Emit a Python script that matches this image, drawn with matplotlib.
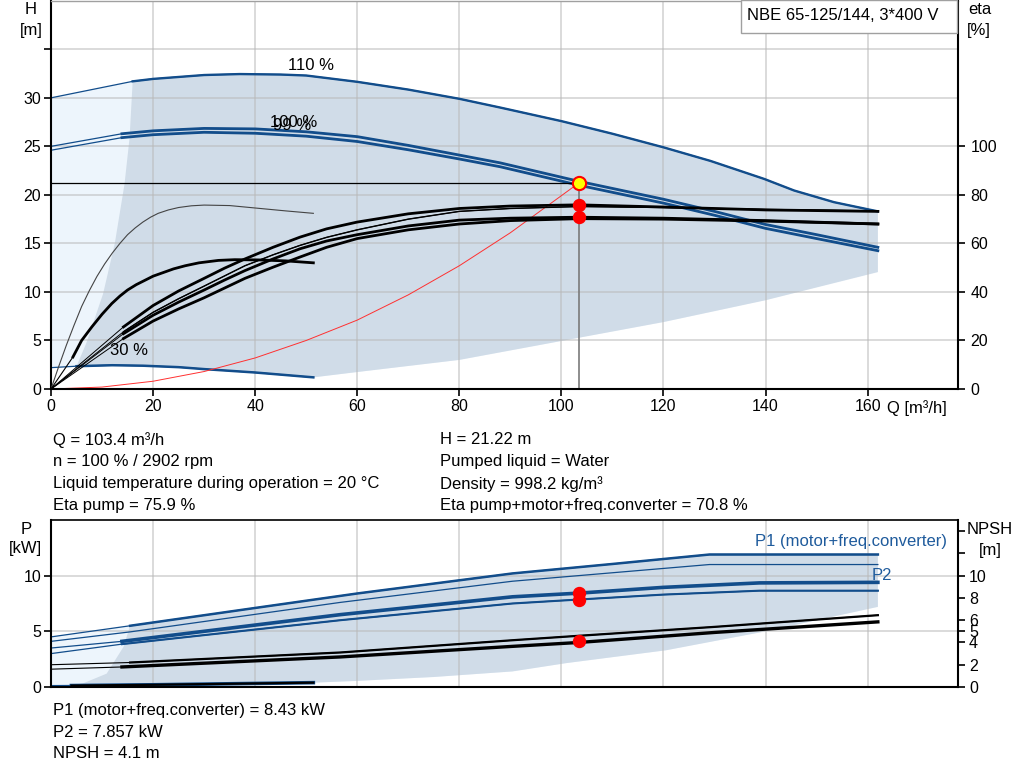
import matplotlib.pyplot as plt
from matplotlib.patches import Rectangle
import numpy as np

plt.rcParams['font.family'] = ['Liberation Sans', 'DejaVu Sans']

BLUE = '#124d8b'
TXT_BLUE = '#1f5b9c'
SHADE = '#d0dce8'
LIGHT = '#edf5fc'

# ---- top chart (H [m], eta [%]) ----
q_110 = [0, 16, 20, 30, 37, 45, 50, 60, 70, 80, 88, 100, 110, 120, 129.2, 139.7, 145.6, 153.4, 162]
h_110 = [30.0, 31.7, 31.95, 32.35, 32.45, 32.4, 32.3, 31.65, 30.85, 29.9, 29.0, 27.6, 26.3, 24.9, 23.5, 21.65, 20.45, 19.25, 18.3]

q_100 = [0, 13.9, 20, 30, 40, 50, 60, 70, 80, 88, 103.4, 120, 130, 140, 150, 162]
h_100 = [25.0, 26.3, 26.6, 26.85, 26.8, 26.5, 26.0, 25.1, 24.1, 23.3, 21.4, 19.55, 18.3, 16.95, 15.9, 14.6]
h_99 = [24.6, 25.9, 26.2, 26.45, 26.35, 26.05, 25.5, 24.65, 23.7, 22.9, 21.0, 19.15, 17.9, 16.55, 15.5, 14.25]

q_30 = [0, 5, 12, 18, 25, 30, 40, 51.4]
h_30 = [2.2, 2.35, 2.45, 2.4, 2.25, 2.05, 1.7, 1.2]

q_low = [51.4, 60, 80, 100, 120, 140, 162]
h_low = [1.2, 1.75, 3.0, 4.95, 6.9, 9.15, 12.05]

q_left = [5.0, 6.9, 10.2, 12.5, 14.4, 15.4, 16]
h_left = [2.35, 4.7, 9.8, 15.0, 21.1, 25.9, 31.7]

q_eta = [0, 14.2, 20, 25, 30, 34, 38, 43.5, 48.8, 54, 60, 70, 80, 90, 103.4, 120, 140, 162]
eta_pump_100 = [0, 25.6, 34.4, 40.4, 45.6, 49.8, 53.6, 58.4, 62.6, 66.0, 68.8, 72.2, 74.4, 75.4, 75.9, 75.0, 73.8, 73.2]
eta_pump_99 = [0, 23.6, 31.6, 37.2, 42.4, 46.6, 50.8, 55.3, 59.2, 62.5, 65.6, 70.0, 73.2, 74.4, 75.2, 74.8, 74.0, 73.4]
eta_tot_100 = [0, 22.8, 30.4, 35.8, 40.8, 44.9, 48.8, 53.6, 57.8, 61.0, 63.6, 67.2, 69.6, 70.4, 70.8, 70.4, 69.4, 68.0]
eta_tot_99 = [0, 20.8, 28.0, 33.0, 37.6, 41.6, 45.6, 50.2, 54.4, 58.4, 62.0, 65.6, 68.0, 69.4, 70.2, 70.0, 69.2, 68.0]

q_eta30 = [0, 1.5, 3, 4.5, 6, 7.5, 9, 10.5, 12, 13.5, 15, 16.5, 18, 19.5, 21, 23, 25, 27.5, 30, 35, 40, 46, 51.4]
eta_pump_30 = [0, 9.2, 18, 26.2, 34, 40.5, 46.4, 51.5, 56, 60.0, 63.6, 66.4, 68.8, 70.8, 72.4, 73.8, 74.8, 75.5, 75.8, 75.6, 74.6, 73.4, 72.4]
q_eta30t = [0, 4.3, 6, 8, 10, 11.9, 13.5, 15, 16.7, 18.4, 20, 22, 24, 26.3, 29, 32.8, 36, 40.7, 46, 51.4]
eta_tot_30 = [0, 13.2, 20.0, 25.6, 30.8, 35.2, 38.3, 40.8, 43.0, 44.8, 46.5, 48.0, 49.5, 50.8, 52.0, 53.0, 53.3, 53.2, 52.8, 52.0]

q_sys = [0, 10, 20, 30, 40, 50, 60, 70, 80, 90, 103.4]
h_sys = [0, 0.2, 0.8, 1.8, 3.2, 5.0, 7.1, 9.7, 12.7, 16.1, 21.22]

q_op = 103.4
h_op = 21.22
eta_op = [75.9, 70.8]

# ---- bottom chart (P [kW], NPSH [m]) ----
q_p1_110 = [0, 15.5, 40, 60, 90.4, 110, 129, 162]
p1_110 = [4.5, 5.5, 7.1, 8.4, 10.2, 11.05, 11.9, 11.9]
q_p2_110 = [0, 15.5, 56.7, 90.4, 129, 162]
p2_110 = [4.1, 4.95, 7.6, 9.5, 11.0, 11.0]
q_p_100 = [0, 13.9, 56.7, 90.4, 103.4, 120, 138.8, 162]
p1_100 = [3.5, 4.1, 6.5, 8.1, 8.43, 8.95, 9.35, 9.4]
p2_100 = [3.0, 3.85, 6.0, 7.5, 7.857, 8.3, 8.65, 8.65]
q_p30 = [0, 4.0, 20, 40, 51.4]
p_30 = [0.12, 0.13, 0.2, 0.32, 0.39]

q_npsh_a = [0, 15.5, 56.7, 90.4, 103.4, 130, 162]
npsh_a = [2.0, 2.2, 3.1, 4.2, 4.6, 5.4, 6.45]
q_npsh_b = [0, 13.9, 56.7, 90.4, 103.4, 130, 162]
npsh_b = [1.6, 1.8, 2.7, 3.65, 4.0, 4.9, 5.85]

q_plow = [51.4, 60, 75, 90.4, 101, 120.5, 140, 162]
p_low = [0.39, 0.55, 0.9, 1.4, 2.15, 3.3, 5.0, 7.2]
q_pleft = [4.0, 6.3, 10.9, 14.2, 15.5]
p_left = [0.13, 0.33, 1.2, 3.6, 5.5]

p_op = [8.43, 7.857]
npsh_op = 4.1

W, H = 1024, 781
fig = plt.figure(figsize=(W / 100, H / 100), dpi=100)

def fx(px):
    return px / W

def fy(py):
    return 1 - py / H

def style_axes(a):
    a.set_axisbelow(True)
    a.grid(True, color='#b8b8b8', alpha=0.55, lw=1.3)
    a.tick_params(direction='out', length=5, width=1.2, labelsize=11.5, pad=2)
    for s in ['left', 'bottom']:
        a.spines[s].set_linewidth(1.5)

def thick_part(q, v, qmin):
    q = np.asarray(q, float)
    v = np.asarray(v, float)
    m = q >= qmin
    return q[m], v[m]

# ================= top chart =================
ax = fig.add_axes([fx(51), fy(389), fx(958 - 51), 389 / H - 0.001])
ax.set_xlim(0, 177.7)
ax.set_ylim(0, 40)
style_axes(ax)
ax.spines['top'].set_color('#a0a0a0')
ax.spines['top'].set_linewidth(1)
ax.spines['right'].set_visible(False)

q110 = np.array(q_110); q30 = np.array(q_30)
env_x = np.concatenate([q110, q_low[::-1], q30[::-1]])
env_y = np.concatenate([h_110, h_low[::-1], np.array(h_30)[::-1]])
ax.fill(env_x, env_y, color=LIGHT, lw=0, zorder=0.2)
m110 = q110 >= q_left[-1]
m30 = q30 >= q_left[0]
dark_x = np.concatenate([q_left, q110[m110], q_low[::-1], q30[m30][::-1]])
dark_y = np.concatenate([h_left, np.array(h_110)[m110], h_low[::-1], np.array(h_30)[m30][::-1]])
ax.fill(dark_x, dark_y, color=SHADE, lw=0, zorder=0.3)

ax.set_xticks(range(0, 161, 20))
ax.set_yticks(range(0, 36, 5))
ax.set_yticklabels([str(v) for v in range(0, 31, 5)] + [''])

# head curves
ax.plot(q_110, h_110, color=BLUE, lw=0.9)
ax.plot(*thick_part(q_110, h_110, 15.5), color=BLUE, lw=1.7)
for hh in (h_100, h_99):
    ax.plot(q_100, hh, color=BLUE, lw=0.9)
    ax.plot(*thick_part(q_100, hh, 13.9), color=BLUE, lw=2.0)
ax.plot(q_30, h_30, color=BLUE, lw=0.9)
ax.plot(*thick_part(q_30, h_30, 4.0), color=BLUE, lw=1.8)

ax.plot(q_sys, h_sys, color='#ff3030', lw=0.7)
ax.plot([0, q_op], [h_op, h_op], color='black', lw=0.9)
ax.plot([q_op, q_op], [0, h_op], color='#7a7a7a', lw=1.2)

ax.text(51, 32.6, '110 %', fontsize=12, ha='center', va='bottom')
ax.text(43.0, 26.65, '100 %', fontsize=12, ha='left', va='bottom')
ax.text(43.4, 26.35, '99 %', fontsize=12, ha='left', va='bottom')
ax.text(11.5, 4.0, '30 %', fontsize=12, ha='left', va='center')

# efficiency axis
ax_eta = ax.twinx()
ax_eta.set_ylim(0, 160)
ax_eta.set_yticks(range(0, 101, 20))
ax_eta.tick_params(direction='out', length=5, width=1.2, labelsize=11.5, pad=4)
ax_eta.spines['right'].set_linewidth(1.5)
for s in ['top', 'left', 'bottom']:
    ax_eta.spines[s].set_visible(False)

ax_eta.plot(q_eta30, eta_pump_30, color='#444444', lw=0.8)
ax_eta.plot(q_eta30t, eta_tot_30, color='black', lw=0.8)
ax_eta.plot(*thick_part(q_eta30t, eta_tot_30, 4.3), color='black', lw=2.0)
for ee, lw in ((eta_pump_100, 2.0), (eta_pump_99, 1.0), (eta_tot_100, 2.0), (eta_tot_99, 2.0)):
    ax_eta.plot(q_eta, ee, color='black', lw=0.7)
    ax_eta.plot(*thick_part(q_eta, ee, 14.2), color='black', lw=lw)

ax_eta.plot([q_op, q_op], eta_op, 'o', color='red', ms=8.6, ls='none')
ax_eta.plot([q_op], [h_op], 'o', mfc='#ffff00', mec='red', ms=9.5, mew=1.5,
            transform=ax.transData)

# ================= bottom chart =================
bx = fig.add_axes([fx(51), fy(687), fx(958 - 51), (687 - 520) / H])
bx.set_xlim(0, 177.7)
bx.set_ylim(0, 15)
style_axes(bx)
bx.spines['top'].set_linewidth(1.2)
bx.spines['right'].set_visible(False)
bx.set_xticks(range(0, 161, 20))
bx.tick_params(axis='x', length=0, labelbottom=False)
bx.set_yticks([0, 5, 10])

qp = np.array(q_p1_110); q3 = np.array(q_p30)
benv_x = np.concatenate([qp, q_plow[::-1], q3[::-1]])
benv_y = np.concatenate([p1_110, p_low[::-1], np.array(p_30)[::-1]])
bx.fill(benv_x, benv_y, color=LIGHT, lw=0, zorder=0.2)
mp = qp >= q_pleft[-1]
m3 = q3 >= q_pleft[0]
bdark_x = np.concatenate([q_pleft, qp[mp], q_plow[::-1], q3[m3][::-1]])
bdark_y = np.concatenate([p_left, np.array(p1_110)[mp], p_low[::-1], np.array(p_30)[m3][::-1]])
bx.fill(bdark_x, bdark_y, color=SHADE, lw=0, zorder=0.3)

bx.plot(q_p1_110, p1_110, color=BLUE, lw=0.9)
bx.plot(*thick_part(q_p1_110, p1_110, 15.5), color=BLUE, lw=1.8)
bx.plot(q_p2_110, p2_110, color=BLUE, lw=0.9)
bx.plot(q_p_100, p1_100, color=BLUE, lw=0.9)
bx.plot(*thick_part(q_p_100, p1_100, 13.9), color=BLUE, lw=2.6)
bx.plot(q_p_100, p2_100, color=BLUE, lw=0.9)
bx.plot(*thick_part(q_p_100, p2_100, 13.9), color=BLUE, lw=1.5)
bx.plot(q_p30, p_30, color=BLUE, lw=1.0)
bx.plot(*thick_part(q_p30, p_30, 4.0), color=BLUE, lw=2.6)
bx.plot(*thick_part(q_p30, p_30, 4.0), color='black', lw=1.6)

bx.plot([q_op, q_op], p_op, 'o', color='red', ms=8.6, ls='none', zorder=5)
bx.text(175.6, 13.1, 'P1 (motor+freq.converter)', color=TXT_BLUE, fontsize=12,
        ha='right', va='center')
bx.text(160.7, 10.0, 'P2', color=TXT_BLUE, fontsize=12, ha='left', va='center')

bn = bx.twinx()
bn.set_ylim(0, 15)
bn.set_yticks([0, 2, 4, 5, 6, 8, 10, 12, 14])
bn.set_yticklabels(['0', '2', '4', '5', '6', '8', '10', '', ''])
bn.tick_params(direction='out', length=5, width=1.2, labelsize=11.5, pad=3)
bn.spines['right'].set_linewidth(1.5)
for s in ['top', 'left', 'bottom']:
    bn.spines[s].set_visible(False)

bn.plot(q_npsh_a, npsh_a, color='black', lw=0.8)
bn.plot(*thick_part(q_npsh_a, npsh_a, 15.5), color='black', lw=1.6)
bn.plot(q_npsh_b, npsh_b, color='black', lw=0.8)
bn.plot(*thick_part(q_npsh_b, npsh_b, 13.9), color='black', lw=2.4)
bn.plot([q_op], [npsh_op], 'o', color='red', ms=8.6)

# ================= texts =================
def ftext(px, py, s, **kw):
    kw.setdefault('fontsize', 12)
    kw.setdefault('va', 'center')
    fig.text(fx(px), fy(py), s, **kw)

ftext(31, 10, 'H', ha='center')
ftext(31, 30, '[m]', ha='center')
ftext(980, 10, 'eta', ha='center')
ftext(979, 30, '[%]', ha='center')
ftext(887, 408, 'Q [m³/h]')
ftext(26, 529, 'P', ha='center')
ftext(25, 549, '[kW]', ha='center')
ftext(990, 530, 'NPSH', ha='center')
ftext(990, 550, '[m]', ha='center')

fig.patches.append(Rectangle((fx(741), fy(33)), fx(957 - 741), 33 / H,
                             transform=fig.transFigure, facecolor='white',
                             edgecolor='#a0a0a0', lw=1, zorder=5))
ftext(747, 16, 'NBE 65-125/144, 3*400 V', zorder=6)

left_lines = ['Q = 103.4 m³/h', 'n = 100 % / 2902 rpm',
              'Liquid temperature during operation = 20 °C', 'Eta pump = 75.9 %']
right_lines = ['H = 21.22 m', 'Pumped liquid = Water', 'Density = 998.2 kg/m³',
               'Eta pump+motor+freq.converter = 70.8 %']
for i, s in enumerate(left_lines):
    ftext(53, 440 + i * 21.8, s)
for i, s in enumerate(right_lines):
    ftext(440, 440 + i * 21.8, s)

bottom_lines = ['P1 (motor+freq.converter) = 8.43 kW', 'P2 = 7.857 kW', 'NPSH = 4.1 m']
for i, s in enumerate(bottom_lines):
    ftext(53, 711 + i * 21.5, s)

fig.savefig('out.png', dpi=100)
